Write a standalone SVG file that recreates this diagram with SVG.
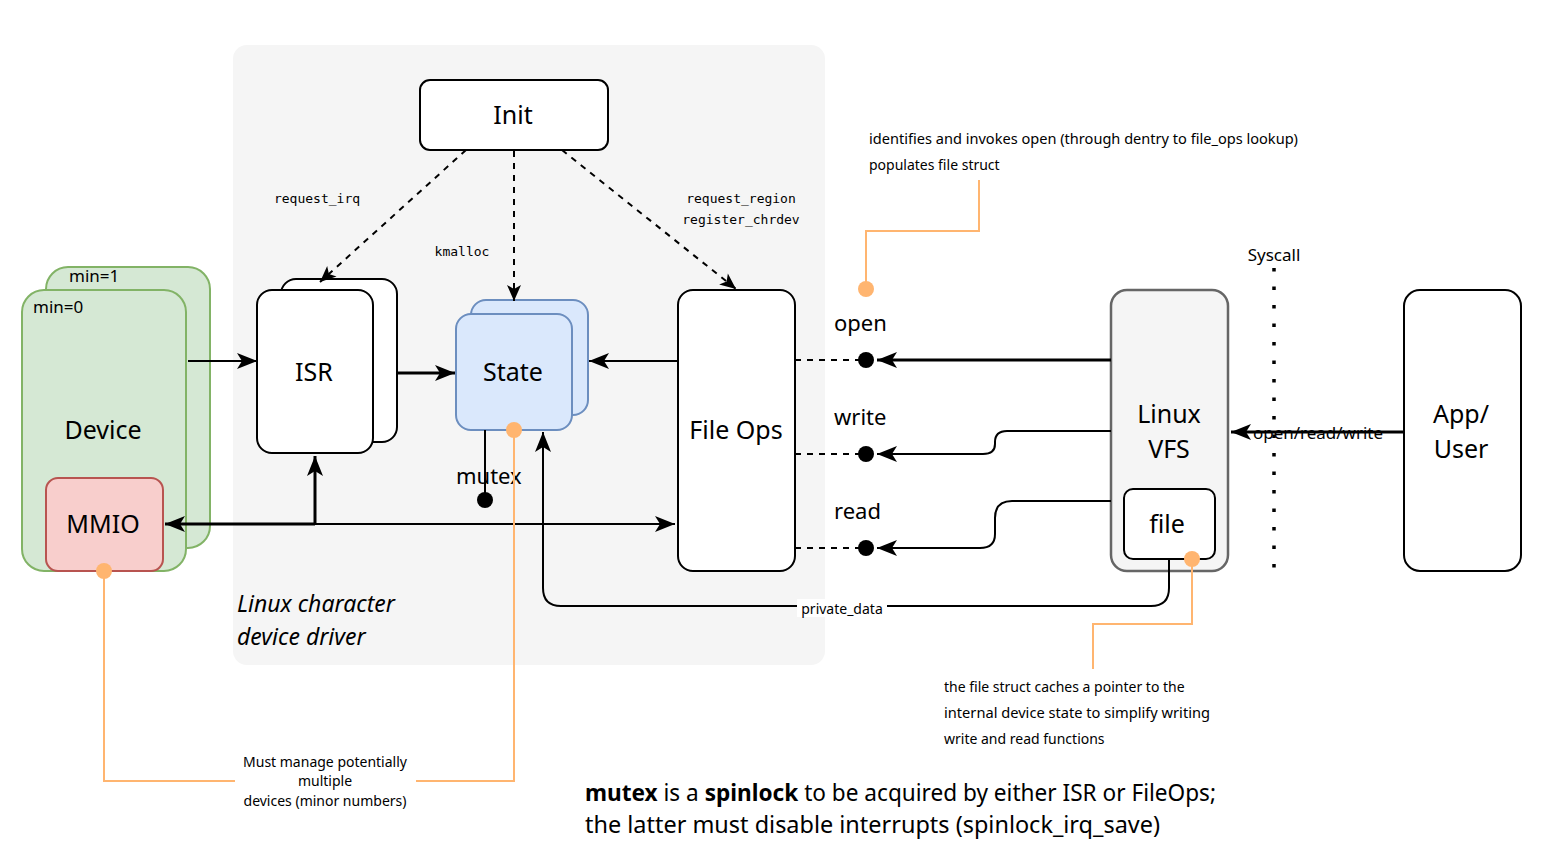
<svg xmlns="http://www.w3.org/2000/svg" width="1543" height="854" viewBox="0 0 1543 854">
<style>
text{font-family:"Noto Sans","Open Sans",sans-serif;fill:#000}
.big{font-size:25px;text-anchor:middle}
.lbl{font-size:22px}
.mono{font-family:"DejaVu Sans Mono","Liberation Mono",monospace;font-size:13px;text-anchor:middle}
.note{font-size:14px}
.box{fill:#fff;stroke:#000;stroke-width:2}
.ln{fill:none;stroke:#000;stroke-width:2}
.thick{fill:none;stroke:#000;stroke-width:3}
.dash{fill:none;stroke:#000;stroke-width:2;stroke-dasharray:6 6}
.or{fill:none;stroke:#FFB570;stroke-width:2}
.ordot{fill:#FFB570}
</style>
<defs>
<marker id="a" markerUnits="userSpaceOnUse" markerWidth="24" markerHeight="20" refX="22" refY="10" orient="auto">
<path d="M2,2 L22,10 L2,18 L7,10 Z" fill="#000"/>
</marker>
<marker id="as" markerUnits="userSpaceOnUse" markerWidth="20" markerHeight="18" refX="18" refY="9" orient="auto">
<path d="M2,2 L18,9 L2,16 L6,9 Z" fill="#000"/>
</marker>
</defs>

<g id="driver-container">
<rect x="233" y="45" width="592" height="620" rx="14" fill="#f5f5f5"/>
<text x="237" y="612" font-size="23" font-style="italic">Linux character</text>
<text x="237" y="645" font-size="23" font-style="italic">device driver</text>
</g>

<g id="init">
<rect class="box" x="420" y="80" width="188" height="70" rx="10"/>
<text class="big" x="513" y="124">Init</text>
</g>

<g id="isr">
<rect class="box" x="281" y="279" width="116" height="163" rx="15"/>
<rect class="box" x="257" y="290" width="116" height="163" rx="15"/>
<text class="big" x="314" y="381">ISR</text>
</g>

<g id="state">
<rect x="471" y="300" width="117" height="115" rx="15" fill="#dae8fc" stroke="#6c8ebf" stroke-width="2"/>
<rect x="456" y="314" width="116" height="116" rx="15" fill="#dae8fc" stroke="#6c8ebf" stroke-width="2"/>
<text class="big" x="513" y="381">State</text>
</g>

<g id="fileops">
<rect class="box" x="678" y="290" width="117" height="281" rx="15"/>
<text class="big" x="736" y="439">File Ops</text>
</g>

<g id="device">
<rect x="46" y="267" width="164" height="281" rx="22" fill="#d5e8d4" stroke="#82b366" stroke-width="2"/>
<rect x="22" y="290" width="164" height="281" rx="22" fill="#d5e8d4" stroke="#82b366" stroke-width="2"/>
<text x="69" y="282" font-size="17">min=1</text>
<text x="33" y="313" font-size="17">min=0</text>
<text class="big" x="103" y="439">Device</text>
</g>

<g id="mmio">
<rect x="46" y="478" width="117" height="93" rx="12" fill="#f8cecc" stroke="#b85450" stroke-width="2"/>
<text class="big" x="103" y="533">MMIO</text>
</g>

<g id="vfs">
<rect x="1111" y="290" width="117" height="281" rx="16" fill="#f5f5f5" stroke="#666666" stroke-width="2.5"/>
<text class="big" x="1169" y="423" fill="#333">Linux</text>
<text class="big" x="1169" y="458" fill="#333">VFS</text>
</g>

<g id="file">
<rect class="box" x="1124" y="489" width="91" height="70" rx="9"/>
<text class="big" x="1167" y="533">file</text>
</g>

<g id="app">
<rect class="box" x="1404" y="290" width="117" height="281" rx="16"/>
<text class="big" x="1461" y="423">App/</text>
<text class="big" x="1461" y="458">User</text>
</g>

<g id="syscall">
<line x1="1274" y1="268" x2="1274" y2="572" stroke="#000" stroke-width="3.5" stroke-dasharray="3.5 15"/>
<text x="1274" y="261" font-size="17" text-anchor="middle">Syscall</text>
</g>

<g id="connectors">
<path class="dash" d="M466,150 L320,282" marker-end="url(#as)"/>
<path class="dash" d="M514,151 L514,301" marker-end="url(#as)"/>
<path class="dash" d="M562,150 L736,289" marker-end="url(#as)"/>
<text class="mono" x="317" y="203">request_irq</text>
<text class="mono" x="462" y="256">kmalloc</text>
<text class="mono" x="741" y="203">request_region</text>
<text class="mono" x="741" y="224">register_chrdev</text>

<path class="ln" d="M188,361 L257,361" marker-end="url(#a)"/>
<path class="thick" d="M397,373 L455,373" marker-end="url(#a)"/>
<path class="ln" d="M678,361 L589,361" marker-end="url(#a)"/>

<path class="thick" d="M315,524 L165,524" marker-end="url(#a)"/>
<path class="thick" d="M315,524 L315,456" marker-end="url(#a)"/>
<path class="ln" d="M315,524 L675,524" marker-end="url(#a)"/>

<path class="ln" d="M485,430 L485,500"/>
<circle cx="485" cy="500" r="8" fill="#000"/>
<text x="456" y="484" font-size="22">mutex</text>

<path class="ln" d="M1169,559 L1169,588 Q1169,606 1151,606 L561,606 Q543,606 543,588 L543,432" marker-end="url(#a)"/>
<rect x="797" y="599" width="90" height="18" fill="#fff"/>
<text x="842" y="614" font-size="14" text-anchor="middle">private_data</text>

<path class="dash" d="M795,360 L866,360"/>
<path class="thick" d="M1111,360 L877,360" marker-end="url(#a)"/>
<circle cx="866" cy="360" r="8" fill="#000"/>
<text class="lbl" x="834" y="331">open</text>
<path class="dash" d="M795,454 L866,454"/>
<path class="ln" d="M1111,431 L1007,431 Q995,431 995,442 L995,444 Q995,454 983,454 L877,454" marker-end="url(#a)"/>
<circle cx="866" cy="454" r="8" fill="#000"/>
<text class="lbl" x="834" y="425">write</text>
<path class="dash" d="M795,548 L866,548"/>
<path class="ln" d="M1111,501 L1012,501 Q995,501 995,518 L995,534 Q995,548 980,548 L877,548" marker-end="url(#a)"/>
<circle cx="866" cy="548" r="8" fill="#000"/>
<text class="lbl" x="834" y="519">read</text>

<path class="thick" d="M1404,432 L1231,432" marker-end="url(#a)"/>
<text x="1318" y="439" font-size="16" text-anchor="middle" textLength="130" lengthAdjust="spacingAndGlyphs">open/read/write</text>

<path class="or" d="M104,571 L104,781 L235,781"/>
<path class="or" d="M416,781 L514,781 L514,430"/>
<circle class="ordot" cx="104" cy="571" r="8"/>
<circle class="ordot" cx="514" cy="430" r="8"/>
<path class="or" d="M866,289 L866,231 L979,231 L979,180"/>
<circle class="ordot" cx="866" cy="289" r="8"/>
<path class="or" d="M1192,559 L1192,624 L1093,624 L1093,669"/>
<circle class="ordot" cx="1192" cy="559" r="8"/>
</g>

<g id="notes">
<text class="note" x="325" y="767" text-anchor="middle">Must manage potentially</text>
<text class="note" x="325" y="786" text-anchor="middle">multiple</text>
<text class="note" x="325" y="806" text-anchor="middle">devices (minor numbers)</text>
<text class="note" x="869" y="144" textLength="429" lengthAdjust="spacingAndGlyphs">identifies and invokes open (through dentry to file_ops lookup)</text>
<text class="note" x="869" y="170">populates file struct</text>
<text class="note" x="944" y="692">the file struct caches a pointer to the</text>
<text class="note" x="944" y="718" textLength="266" lengthAdjust="spacingAndGlyphs">internal device state to simplify writing</text>
<text class="note" x="944" y="744">write and read functions</text>
<text x="585" y="801" font-size="23" textLength="631" lengthAdjust="spacingAndGlyphs"><tspan font-weight="bold">mutex</tspan> is a <tspan font-weight="bold">spinlock</tspan> to be acquired by either ISR or FileOps;</text>
<text x="585" y="833" font-size="23" textLength="575" lengthAdjust="spacingAndGlyphs">the latter must disable interrupts (spinlock_irq_save)</text>
</g>
</svg>
